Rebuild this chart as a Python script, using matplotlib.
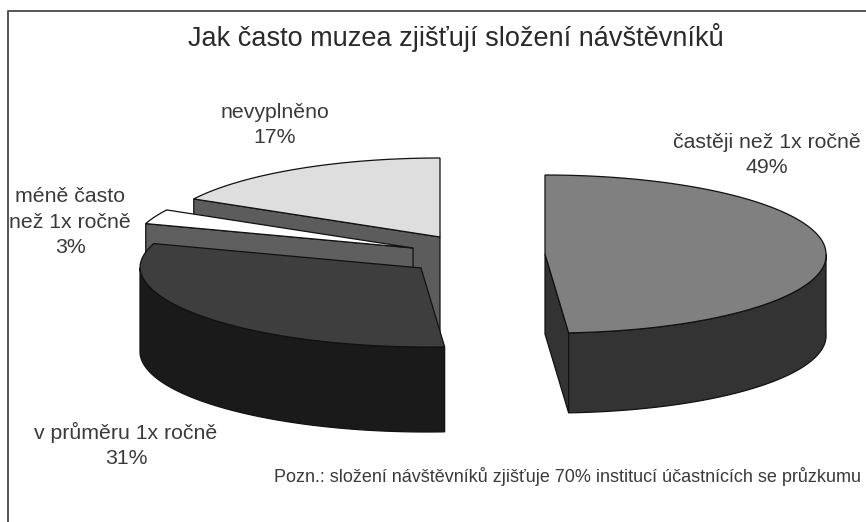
import numpy as np
import matplotlib
matplotlib.use('Agg')
from matplotlib import pyplot as plt
from matplotlib.patches import Polygon

plt.rcParams['font.family'] = ['Liberation Sans', 'DejaVu Sans']

title = "Jak často muzea zjišťují složení návštěvníků"
note = "Pozn.: složení návštěvníků zjišťuje 70% institucí účastnících se průzkumu"
categories = ["častěji než 1x ročně", "v průměru 1x ročně", "méně často\nnež 1x ročně", "nevyplněno"]
shares = [49, 31, 3, 17]

top_colors = ['#808080', '#3e3e3e', '#ffffff', '#dedede']
wall_colors = ['#333333', '#1a1a1a', '#5f5f5f', '#5c5c5c']
# pie centres in pixels, each slice is pulled away from the others
centres = [(545, 254), (421, 268), (413, 248), (440, 237)]
depths = [80, 85, 85, 96]
label_pos = [(767, 155), (126, 445), (70, 222), (275, 125)]
rx, ry = 281, 79
front_skew = 6

fig = plt.figure(figsize=(8.66, 5.22), dpi=100)
ax = fig.add_axes([0, 0, 1, 1])
ax.set_xlim(0, 866)
ax.set_ylim(522, 0)
ax.axis('off')

# frame only shows on the top and left
ax.plot([7.5, 7.5, 866], [522, 11, 11], color='#555555', lw=1.4)


def rim(centre, a0, a1):
    # angles run clockwise from twelve o'clock
    t = np.radians(np.linspace(a0, a1, 120))
    x = centre[0] + rx * np.sin(t) + front_skew * np.maximum(-np.cos(t), 0)
    return np.column_stack([x, centre[1] - ry * np.cos(t)])


edges = np.cumsum([0] + shares) * 3.6
# back to front so that the nearer slices cover the others
for i in [3, 2, 1, 0]:
    c, d = centres[i], depths[i]
    a0, a1 = edges[i], edges[i + 1]
    z = 10 + (3 - i) * 2
    arc = rim(c, a0, a1)
    if i == 0:
        # inner cut face plus outer wall on the right hand side
        start = rim(c, 90, a1)
        face = np.array([c, start[-1], start[-1] + [0, d], np.array(c) + [0, d]])
        ax.add_patch(Polygon(face, fc=wall_colors[i], ec='#111111', lw=0.9, zorder=z))
        wall = np.vstack([start, (start + [0, d])[::-1]])
    elif i == 1:
        start = rim(c, a0, 270)
        wall = np.vstack([start, (start + [0, d])[::-1]])
    else:
        # flat cut face turned towards the viewer
        wall = np.array([arc[0], c, np.array(c) + [0, d], arc[0] + [0, d]])
    ax.add_patch(Polygon(wall, fc=wall_colors[i], ec='#111111', lw=0.9, zorder=z))
    ax.add_patch(Polygon(np.vstack([[c], arc]), fc=top_colors[i], ec='#111111', lw=0.9,
                         zorder=z + 0.5))

ax.text(456, 37, title, fontsize=19.5, color='#2a2a2a', ha='center', va='center')
for name, share, (x, y) in zip(categories, shares, label_pos):
    ax.text(x, y, f"{name}\n{share}%", fontsize=15.3, color='#3a3a3a', ha='center', va='center',
            linespacing=1.42)
ax.text(567, 476, note, fontsize=13, color='#3a3a3a', ha='center', va='center')

plt.savefig('out.png', dpi=100)
